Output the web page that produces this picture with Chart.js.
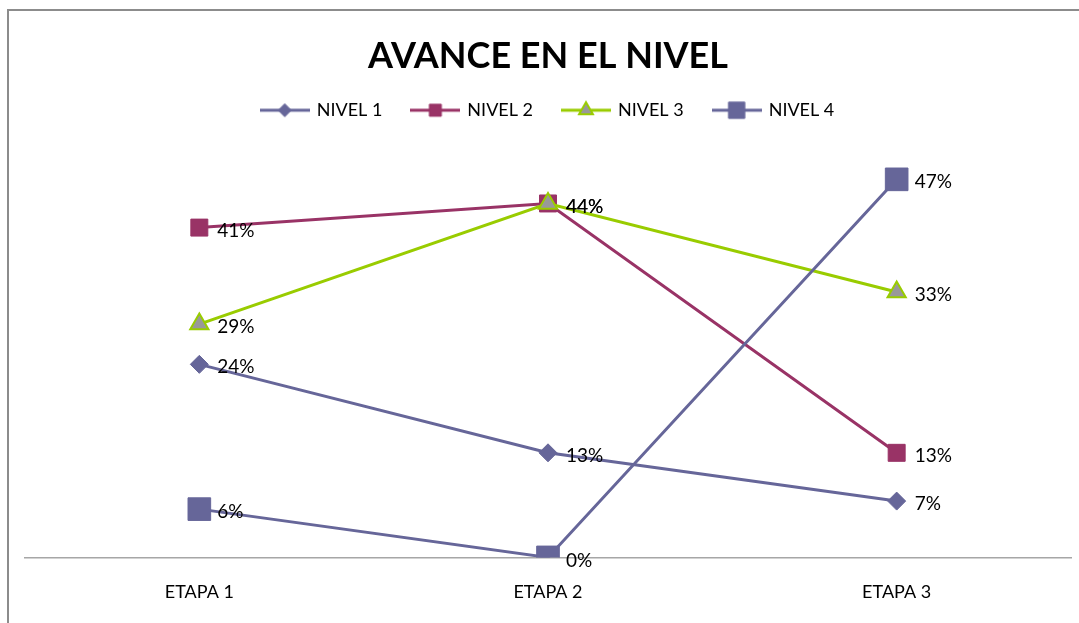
<!DOCTYPE html>
<html>
<head>
<meta charset="utf-8">
<script src="https://cdn.jsdelivr.net/npm/chart.js@4/dist/chart.umd.min.js"></script>
<style>
html,body{margin:0;padding:0;background:#fff;}
#wrap{position:relative;width:1079px;height:623px;}
</style>
</head>
<body>
<div id="wrap"><canvas id="c" width="1079" height="623"></canvas></div>
<script>
// ---- data ----
const categories = ['ETAPA 1', 'ETAPA 2', 'ETAPA 3'];
const seriesNames = ['NIVEL 1', 'NIVEL 2', 'NIVEL 3', 'NIVEL 4'];
const nivel1 = [24, 13, 7];
const nivel2 = [41, 44, 13];
const nivel3 = [29, 44, 33];
const nivel4 = [6, 0, 47];
const titleText = 'AVANCE EN EL NIVEL';

// ---- styles ----
const FONT = 'Lato';
const styles = [
  {line: '#666699', fill: '#666699', border: '#666699', shape: 'rectRot', r: 9, bw: 1, legendR: 6.5},
  {line: '#993366', fill: '#993366', border: '#993366', shape: 'rect', r: 12, bw: 1, legendR: 8.5},
  {line: '#99CC00', fill: '#999999', border: '#99CC00', shape: 'triangle', r: 10.5, bw: 2, legendR: 8},
  {line: '#666699', fill: '#666699', border: '#666699', shape: 'rect', r: 16, bw: 1, legendR: 11.5}
];
const seriesData = [nivel1, nivel2, nivel3, nivel4];

function legendIcon(st) {
  const w = 50, h = 26;
  const c = document.createElement('canvas');
  c.width = w; c.height = h;
  const g = c.getContext('2d');
  g.strokeStyle = st.line; g.lineWidth = 3;
  g.beginPath(); g.moveTo(0, h / 2); g.lineTo(w, h / 2); g.stroke();
  const cx = w / 2, cy = h / 2;
  g.fillStyle = st.fill; g.strokeStyle = st.border; g.lineWidth = st.bw;
  Chart.helpers.drawPoint(g, {pointStyle: st.shape, radius: st.legendR, borderWidth: st.bw}, cx, cy);
  return c;
}
const icons = styles.map(legendIcon);

const datasets = seriesNames.map((name, i) => ({
  label: name,
  data: seriesData[i],
  borderColor: styles[i].line,
  backgroundColor: styles[i].fill,
  borderWidth: 3,
  tension: 0,
  pointStyle: styles[i].shape,
  pointRadius: styles[i].r,
  pointHoverRadius: styles[i].r,
  pointBackgroundColor: styles[i].fill,
  pointBorderColor: styles[i].border,
  pointBorderWidth: styles[i].bw,
  order: 4 - i
}));

const framePlugin = {
  id: 'frame',
  beforeDraw(chart) {
    const ctx = chart.ctx;
    ctx.save();
    ctx.fillStyle = '#fff';
    ctx.fillRect(0, 0, chart.width, chart.height);
    ctx.strokeStyle = '#8c8c8c';
    ctx.lineWidth = 2;
    ctx.beginPath();
    ctx.moveTo(8, 623); ctx.lineTo(8, 10); ctx.lineTo(1079, 10);
    ctx.stroke();
    ctx.restore();
  }
};

const labelPlugin = {
  id: 'pctLabels',
  afterDatasetsDraw(chart) {
    const ctx = chart.ctx;
    ctx.save();
    ctx.font = '19px ' + FONT;
    ctx.fillStyle = '#000';
    ctx.textAlign = 'left';
    ctx.textBaseline = 'middle';
    chart.data.datasets.forEach((ds, i) => {
      const meta = chart.getDatasetMeta(i);
      meta.data.forEach((pt, j) => {
        ctx.fillText(ds.data[j] + '%', pt.x + 18, pt.y + 3);
      });
    });
    ctx.restore();
  }
};

const legendSpacer = {
  id: 'legendSpacer',
  beforeInit(chart) {
    const lg = chart.legend;
    if (!lg) return;
    const orig = lg.fit;
    lg.fit = function () { orig.call(this); this.height += 26; };
  }
};

new Chart(document.getElementById('c'), {
  type: 'line',
  data: {labels: categories, datasets: datasets},
  options: {
    responsive: false,
    animation: false,
    devicePixelRatio: 1,
    layout: {autoPadding: false, padding: {left: 25, right: 8, top: 0, bottom: -4}},
    plugins: {
      tooltip: {enabled: false},
      title: {
        display: true,
        text: titleText,
        color: '#000',
        font: {family: FONT, size: 36, weight: 'bold'},
        padding: {top: 35, bottom: -7}
      },
      legend: {
        display: true,
        position: 'top',
        labels: {
          usePointStyle: true,
          pointStyleWidth: 46,
          color: '#000',
          font: {family: FONT, size: 18},
          padding: 30,
          sort: (a, b) => a.datasetIndex - b.datasetIndex,
          generateLabels: (chart) => chart.data.datasets.map((ds, i) => ({
            text: ds.label,
            datasetIndex: i,
            pointStyle: icons[i],
            fillStyle: 'transparent',
            strokeStyle: 'transparent',
            lineWidth: 0,
            fontColor: '#000',
            hidden: false
          }))
        }
      }
    },
    scales: {
      x: {
        offset: true,
        grid: {display: false, drawTicks: false},
        border: {display: true, color: '#a6a6a6', width: 1.5},
        ticks: {color: '#000', font: {family: FONT, size: 18}, padding: 24}
      },
      y: {
        display: false,
        min: 0,
        max: 50
      }
    }
  },
  plugins: [framePlugin, legendSpacer, labelPlugin]
});
</script>
</body>
</html>
